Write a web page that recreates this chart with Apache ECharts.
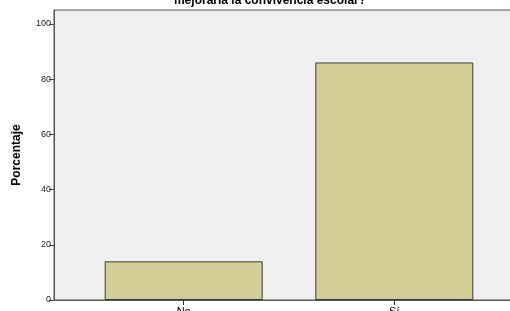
<!DOCTYPE html>
<html>
<head>
<meta charset="utf-8">
<script src="https://cdn.jsdelivr.net/npm/echarts@6/dist/echarts.min.js"></script>
<style>
  html, body { margin: 0; padding: 0; background: #fff; }
  #chart { width: 510px; height: 311px; }
</style>
</head>
<body>
<div id="chart"></div>
<script>
// datos
let categorias = ['No', 'Sí']
let porcentajes = [14, 86]
let yTicks = [0, 20, 40, 60, 80, 100]

let chart = echarts.init(document.getElementById('chart'))
const font = 'Liberation Sans, Arial, sans-serif'

const option = {
  animation: false,
  title: {
    text: 'mejoraría la convivencia escolar?',
    left: 265,
    textAlign: 'center',
    top: -10,
    textStyle: {
      fontFamily: font,
      fontSize: 12,
      fontWeight: 'bold',
      color: '#000'
    }
  },
  grid: [
    {
      // fondo del area de trazado
      left: 54, top: 10, right: -10, bottom: 11,
      outerBoundsMode: 'none',
      containLabel: false,
      show: true,
      backgroundColor: '#efefef',
      borderColor: '#555',
      borderWidth: 1
    },
    {
      left: 78.4, top: 10, right: 10.4, bottom: 11,
      outerBoundsMode: 'none',
      containLabel: false
    }
  ],
  xAxis: [
    {
      gridIndex: 0,
      type: 'value',
      show: true,
      axisLine: { show: true, lineStyle: { color: '#555' } },
      axisTick: { show: false },
      axisLabel: { show: false },
      splitLine: { show: false }
    },
    {
      gridIndex: 1,
      type: 'category',
      data: categorias,
      axisLine: { show: false },
      axisTick: { show: true, alignWithLabel: true, length: 5, lineStyle: { color: '#333' } },
      axisLabel: { fontFamily: font, fontSize: 11, color: '#000', margin: 6 }
    }
  ],
  yAxis: [
    {
      gridIndex: 0,
      type: 'value',
      min: 0,
      max: 105,
      interval: 20,
      name: 'Porcentaje',
      nameLocation: 'middle',
      nameGap: 31,
      nameTextStyle: { fontFamily: font, fontSize: 12, fontWeight: 'bold', color: '#000' },
      axisLine: { show: true, lineStyle: { color: '#555' } },
      axisTick: { show: true, length: 5, lineStyle: { color: '#444' } },
      axisLabel: {
        fontFamily: font, fontSize: 9, color: '#222', margin: 3,
        showMaxLabel: false,
        formatter: function(v) { return yTicks.indexOf(v) >= 0 ? String(v) : '' }
      },
      splitLine: { show: false }
    },
    {
      gridIndex: 1,
      type: 'value',
      min: 0,
      max: 105,
      show: false
    }
  ],
  series: [{
    type: 'bar',
    xAxisIndex: 1,
    yAxisIndex: 1,
    data: porcentajes,
    barWidth: 158,
    itemStyle: {
      color: '#d3ce97',
      borderColor: '#3a3a3a',
      borderWidth: 1
    }
  }]
}

chart.setOption(option)
</script>
</body>
</html>
